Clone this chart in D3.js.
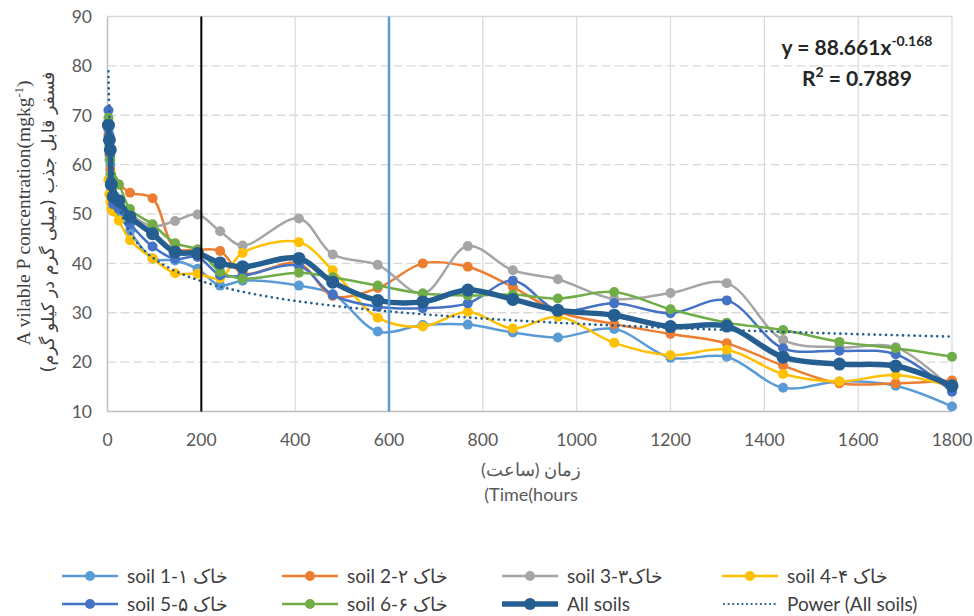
<!DOCTYPE html>
<html><head><meta charset="utf-8">
<script src="https://cdn.jsdelivr.net/npm/d3@7"></script>
<style>
html,body{margin:0;padding:0;background:#fff;}
svg{display:block;}
</style></head>
<body><svg id="c" width="974" height="616"></svg>
<script>
// ---------- data ----------
const times = [2,4,6,8,12,24,48,96,144,192,240,288,408,480,576,672,768,864,960,1080,1200,1320,1440,1560,1680,1800];
const soil1 = [67,63,60,55,52,50,46.5,41,40.6,38.9,35.5,36.5,35.5,33.8,26.2,27.5,27.6,26,25,26.7,20.9,21.1,14.8,16.1,15.2,11];
const soil2 = [66,62,59,57.5,56.5,56,54.3,53.2,43,42.8,42.5,38,40,33.4,35,40,39.3,35.2,30.2,27.7,25.7,23.8,19.3,15.7,15.7,16.3];
const soil3 = [65,61,58,55.5,54,52,50,47.5,48.6,49.9,46.5,43.6,49.1,41.8,39.7,33.9,43.5,38.6,36.8,32.8,34,36,24.5,23,23,14.5];
const soil4 = [57,54,52.5,51,50.5,48.7,44.7,41,38,37.9,37,42.1,44.3,38.6,29,27.2,30.2,26.8,29.2,23.9,21.4,22.5,17.6,16.1,17.4,15];
const soil5 = [71,66,62,57,52,51,48,43.4,40.9,41.3,37.6,37.5,39.5,33.6,31.2,30.9,31.9,36.5,30.5,31.9,29.9,32.5,22.8,22.3,21.6,14];
const soil6 = [69.5,64,61,58,57,56,51,47.9,44.1,42.8,38.3,36.9,38.1,37.2,35.5,33.9,33.5,33.7,32.9,34.2,30.7,28,26.5,24.1,22.8,21.1];
const allSoils = [68,65,63,56,53.5,52.7,49.4,46,42.3,42,40.1,39.3,41,36.2,32.5,32.2,34.6,32.7,30.5,29.5,27.2,27.3,21,19.6,19.2,15.2];
const seriesNames = ["soil 1-۱ خاک","soil 2-۲ خاک","soil 3-۳خاک","soil 4-۴ خاک","soil 5-۵ خاک","soil 6-۶ خاک","All soils","Power (All soils)"];
// power trendline from the chart's equation
const powerA = 88.661, powerB = -0.168;
const eqText1 = "y = 88.661x", eqSup = "-0.168", eqText2 = "R", eqText2b = " = 0.7889";
const xTicks = [0,200,400,600,800,1000,1200,1400,1600,1800];
const yTicks = [10,20,30,40,50,60,70,80,90];
const markerLines = [200,600];
const xTitle1 = "زمان (ساعت)";
const xTitle2 = "(Time(hours";
const yTitleEn = "A vilable P concentration(mgkg";
const yTitleFa = "(فسفر قابل جذب (میلی گرم در کیلو گرم";

// ---------- setup ----------
const colors = ["#5B9BD5","#ED7D31","#A5A5A5","#FFC000","#4472C4","#70AD47","#255E91"];
const svg = d3.select("#c");
const x = d3.scaleLinear().domain([0,1800]).range([107.5,952]);
const y = d3.scaleLinear().domain([10,90]).range([411.5,16.5]);
const font = "Lato, Calibri, 'Open Sans', sans-serif";

// gridlines
svg.append("g").selectAll("line").data(yTicks.filter(d=>d>10)).join("line")
  .attr("x1",x(0)).attr("x2",x(1800)).attr("y1",d=>y(d)).attr("y2",d=>y(d))
  .attr("stroke","#D9D9D9").attr("stroke-width",1.3)
  .attr("stroke-dasharray",d=>d===90?null:"9,4");
svg.append("g").selectAll("line").data(xTicks.filter(d=>d>0)).join("line")
  .attr("x1",d=>x(d)).attr("x2",d=>x(d)).attr("y1",y(10)).attr("y2",y(90))
  .attr("stroke","#D9D9D9").attr("stroke-width",1.2);
// axis lines
svg.append("line").attr("x1",x(0)).attr("x2",x(0)).attr("y1",y(10)).attr("y2",y(90)).attr("stroke","#BFBFBF").attr("stroke-width",1.5);
svg.append("line").attr("x1",x(0)).attr("x2",x(1800)).attr("y1",y(10)).attr("y2",y(10)).attr("stroke","#BFBFBF").attr("stroke-width",1.5);

// tick labels
svg.append("g").selectAll("text").data(yTicks).join("text")
  .attr("x",92).attr("y",d=>y(d)).attr("dy","0.36em").attr("text-anchor","end")
  .attr("font-family",font).attr("font-size",17.5).attr("fill","#595959").text(d=>d);
svg.append("g").selectAll("text").data(xTicks).join("text")
  .attr("x",d=>x(d)).attr("y",446).attr("text-anchor","middle")
  .attr("font-family",font).attr("font-size",17.5).attr("fill","#595959").text(d=>d);

// axis titles
svg.append("text").attr("x",531).attr("y",476).attr("text-anchor","middle")
  .attr("font-family",font).attr("font-size",18).attr("fill","#595959").text(xTitle1);
svg.append("text").attr("x",531).attr("y",501).attr("text-anchor","middle").attr("direction","ltr")
  .attr("font-family",font).attr("font-size",18).attr("fill","#595959").text(xTitle2);

const yt = svg.append("text").attr("transform","translate(30,213) rotate(-90)").attr("text-anchor","middle")
  .attr("font-family","'Liberation Serif','Times New Roman',serif").attr("font-size",19.5).attr("fill","#404040");
yt.append("tspan").text(yTitleEn);
yt.append("tspan").attr("font-size",12.5).attr("dy",-7).text("-1");
yt.append("tspan").attr("dy",7).text(")");
svg.append("text").attr("transform","translate(54,222) rotate(-90)").attr("text-anchor","middle")
  .attr("font-family","'DejaVu Sans',sans-serif").attr("font-size",17.5).attr("fill","#404040").text(yTitleFa);

// series
const data = [soil1,soil2,soil3,soil4,soil5,soil6,allSoils];
const line = d3.line().x(d=>x(d[0])).y(d=>y(d[1])).curve(d3.curveCatmullRom.alpha(0.5));
data.forEach((vals,i)=>{
  const pts = times.map((t,j)=>[t,vals[j]]);
  const isAll = i===6;
  const g = svg.append("g");
  g.append("path").attr("d",line(pts)).attr("fill","none").attr("stroke",colors[i])
    .attr("stroke-width",isAll?5.5:2.5).attr("stroke-linejoin","round");
  g.selectAll("circle").data(pts).join("circle").attr("cx",d=>x(d[0])).attr("cy",d=>y(d[1]))
    .attr("r",isAll?6.5:5).attr("fill",colors[i]);
});

// power trendline (from chart equation)
const trendX = d3.range(0,201).map(k=>2*Math.pow(900,k/200));
const trendPts = trendX.map(t=>[t,powerA*Math.pow(t,powerB)]);
svg.append("path").attr("d",d3.line().x(d=>x(d[0])).y(d=>y(d[1]))(trendPts))
  .attr("fill","none").attr("stroke","#255E91").attr("stroke-width",2.6)
  .attr("stroke-linecap","round").attr("stroke-dasharray","0.1,5.6");

// vertical marker lines
svg.append("line").attr("x1",x(markerLines[0])).attr("x2",x(markerLines[0])).attr("y1",y(10)).attr("y2",y(90))
  .attr("stroke","#000").attr("stroke-width",2);
svg.append("line").attr("x1",x(markerLines[1])).attr("x2",x(markerLines[1])).attr("y1",y(10)).attr("y2",y(90))
  .attr("stroke","#5B9BD5").attr("stroke-width",2.5);

// equation
const eq = svg.append("g").attr("font-family",font).attr("font-weight","bold").attr("fill","#262626").attr("font-size",21);
const e1 = eq.append("text").attr("x",857).attr("y",55).attr("text-anchor","middle");
e1.append("tspan").text(eqText1);
e1.append("tspan").attr("font-size",14).attr("dy",-9).text(eqSup);
const e2 = eq.append("text").attr("x",857).attr("y",86).attr("text-anchor","middle");
e2.append("tspan").text(eqText2);
e2.append("tspan").attr("font-size",14).attr("dy",-9).text("2");
e2.append("tspan").attr("dy",9).text(eqText2b);

// legend
const legX = [62,282,502,722];
const legY = [576,604];
seriesNames.forEach((name,i)=>{
  const lx = legX[i%4], ly = legY[Math.floor(i/4)];
  const g = svg.append("g");
  if(i<7){
    g.append("line").attr("x1",lx).attr("x2",lx+56).attr("y1",ly).attr("y2",ly)
      .attr("stroke",colors[i]).attr("stroke-width",i===6?5.5:2.5);
    g.append("circle").attr("cx",lx+28).attr("cy",ly).attr("r",i===6?6:5).attr("fill",colors[i]);
  } else {
    g.append("line").attr("x1",lx+2).attr("x2",lx+56).attr("y1",ly).attr("y2",ly)
      .attr("stroke","#255E91").attr("stroke-width",2.2).attr("stroke-linecap","round").attr("stroke-dasharray","0.1,4.5");
  }
  g.append("text").attr("x",lx+65).attr("y",ly).attr("dy","0.36em").attr("direction","ltr")
    .attr("font-family",font).attr("font-size",19).attr("fill","#404040").text(name);
});
</script></body></html>
